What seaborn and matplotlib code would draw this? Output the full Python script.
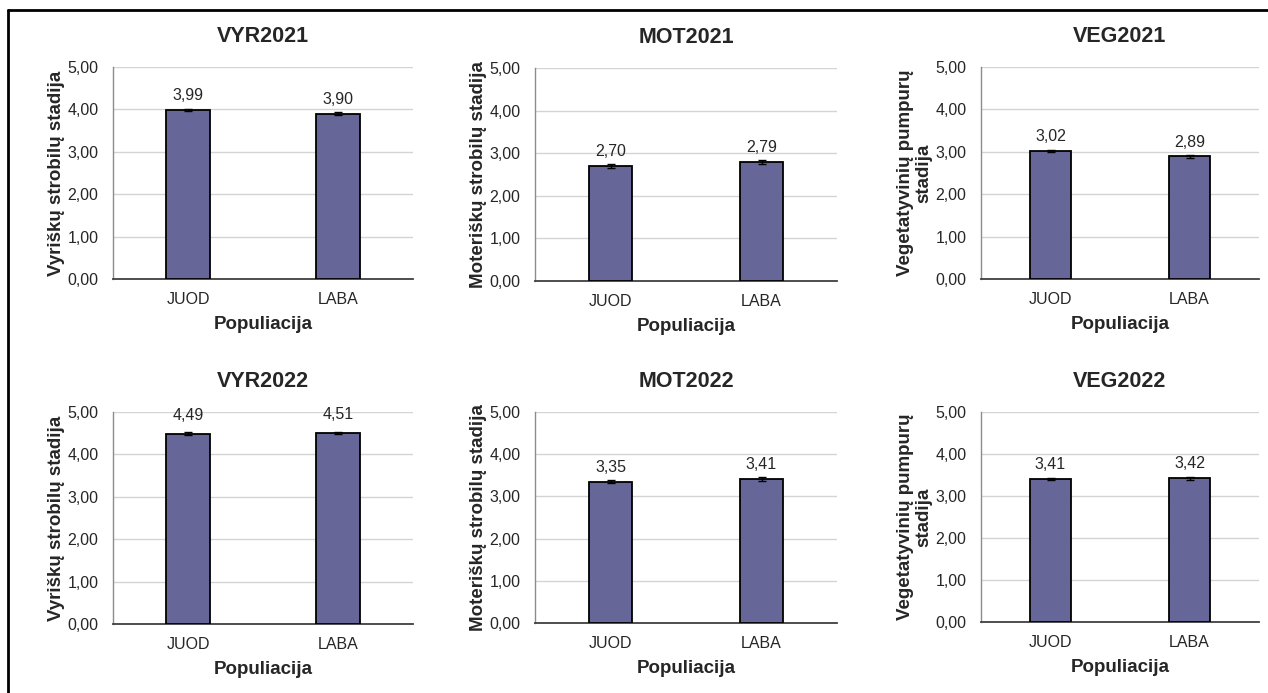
import numpy as np
import pandas as pd
import matplotlib
matplotlib.use("Agg")
import matplotlib.pyplot as plt
from matplotlib.lines import Line2D
from matplotlib import ticker
import seaborn as sns

# duomenys
populiacijos = ["JUOD", "LABA"]
pavadinimai = ["VYR2021", "MOT2021", "VEG2021", "VYR2022", "MOT2022", "VEG2022"]
y_pavad = ["Vyriškų strobilų stadija", "Moteriškų strobilų stadija", "Vegetatyvinių pumpurų\nstadija",
           "Vyriškų strobilų stadija", "Moteriškų strobilų stadija", "Vegetatyvinių pumpurų\nstadija"]

vyr2021 = [3.99, 3.90]
mot2021 = [2.70, 2.79]
veg2021 = [3.02, 2.89]
vyr2022 = [4.49, 4.51]
mot2022 = [3.35, 3.41]
veg2022 = [3.41, 3.42]

vyr2021_se = [0.02, 0.03]
mot2021_se = [0.04, 0.04]
veg2021_se = [0.03, 0.03]
vyr2022_se = [0.03, 0.03]
mot2022_se = [0.03, 0.04]
veg2022_se = [0.03, 0.04]

reiksmes = [vyr2021, mot2021, veg2021, vyr2022, mot2022, veg2022]
klaidos = [vyr2021_se, mot2021_se, veg2021_se, vyr2022_se, mot2022_se, veg2022_se]

sns.set_style("white")
plt.rcParams['font.family'] = ['Liberation Sans', 'DejaVu Sans']

W, H = 1268, 693
fig = plt.figure(figsize=(W / 100, H / 100), dpi=100)

# asiu padetys pikseliais (kaire, desine, virsus, apacia)
padetys = [(113, 413, 67, 279), (535, 837, 68, 281), (981, 1259, 67, 279),
           (113, 413, 412, 624), (535, 837, 412, 623), (981, 1259, 412, 622)]

for i in range(6):
    l, r, t, b = padetys[i]
    ax = fig.add_axes([l / W, 1 - b / H, (r - l) / W, (b - t) / H])
    df = pd.DataFrame({'Populiacija': populiacijos, 'Reiksme': reiksmes[i]})
    sns.barplot(data=df, x='Populiacija', y='Reiksme', ax=ax, color='#666699',
                saturation=1, width=0.29, edgecolor='black', linewidth=1.3, errorbar=None, zorder=3)
    ax.errorbar(range(len(populiacijos)), reiksmes[i], yerr=klaidos[i], fmt='none',
                ecolor='black', elinewidth=1, capsize=3, capthick=1, zorder=4)
    etiketes = [f"{v:.2f}".replace('.', ',') for v in reiksmes[i]]
    pad = 8 if i == 3 else 5
    ax.bar_label(ax.containers[0], labels=etiketes, padding=pad, fontsize=11.5)

    ax.set_ylim(0, 5)
    ax.set_xlim(-0.5, 1.5)
    ax.yaxis.set_major_locator(ticker.MultipleLocator(1))
    ax.yaxis.set_major_formatter(ticker.FuncFormatter(lambda v, p: f"{v:.2f}".replace('.', ',')))
    ax.grid(axis='y', color='#d4d4d4', linewidth=1, zorder=0)
    ax.set_axisbelow(True)

    ax.set_xticks([0, 1])
    ax.set_xticks([1.5], minor=True)
    ax.tick_params(axis='x', which='both', direction='inout', length=7, width=1,
                   color='#404040', labelsize=11.5, pad=6)
    ax.tick_params(axis='y', length=0, labelsize=11.5, pad=10.5)

    for s in ['top', 'right']:
        ax.spines[s].set_visible(False)
    ax.spines['left'].set_color('#8c8c8c')
    ax.spines['left'].set_linewidth(1)
    ax.spines['bottom'].set_color('#404040')
    ax.spines['bottom'].set_linewidth(1.3)

    ax.set_title(pavadinimai[i], fontsize=15.5, fontweight='bold', pad=18)
    ax.set_xlabel('Populiacija', fontsize=13.5, fontweight='bold', labelpad=6)
    ax.set_ylabel(y_pavad[i], fontsize=13.5, fontweight='bold', labelpad=2, linespacing=1.15)

# remelis
fig.add_artist(Line2D([8 / W, 8 / W], [0, 1 - 10 / H], color='black', linewidth=2, transform=fig.transFigure))
fig.add_artist(Line2D([8 / W, 1], [1 - 10 / H, 1 - 10 / H], color='black', linewidth=2, transform=fig.transFigure))

fig.savefig("out.png", dpi=100)
